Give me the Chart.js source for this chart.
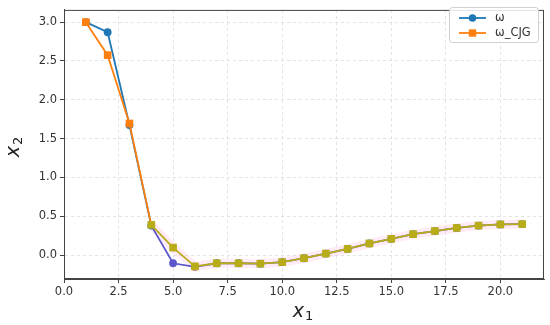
<!DOCTYPE html>
<html><head><meta charset="utf-8">
<script src="https://cdn.jsdelivr.net/npm/chart.js@4/dist/chart.umd.min.js"></script>
<style>html,body{margin:0;padding:0;background:#fff}#wrap{width:550px;height:325px}</style>
</head><body><div id="wrap"><canvas id="c" width="550" height="325"></canvas></div>
<script>
const xValues = [1,2,3,4,5,6,7,8,9,10,11,12,13,14,15,16,17,18,19,20,21];
const omega = [3.0,2.87,1.675,0.38,-0.105,-0.15,-0.105,-0.105,-0.11,-0.09,-0.04,0.02,0.08,0.15,0.21,0.27,0.31,0.35,0.38,0.395,0.40];
const omegaCJG = [3.0,2.575,1.695,0.39,0.097,-0.145,-0.105,-0.105,-0.11,-0.09,-0.04,0.02,0.08,0.15,0.21,0.27,0.31,0.35,0.38,0.395,0.40];
const xTicks = [0,2.5,5,7.5,10,12.5,15,17.5,20];
const yTicks = [0,0.5,1.0,1.5,2.0,2.5,3.0];
const seriesNames = ['ω','ω_CJG'];
const axisNames = [['x','1'],['x','2']];

const BLUE='#1f77b4', ORANGE='#ff7f0e', OLIVE='#b8ad18', PURPLE='#5c58cc';
const pts = arr => xValues.map((x,i)=>({x, y:arr[i]}));

function drawSubTitle(ctx, parts, cx, cy){
  ctx.font='italic 19px "DejaVu Sans"';
  const w1=ctx.measureText(parts[0]).width;
  ctx.font='13px "DejaVu Sans"';
  const w2=ctx.measureText(parts[1]).width;
  const x0=cx-(w1+w2+1)/2;
  ctx.textAlign='left'; ctx.textBaseline='alphabetic'; ctx.fillStyle='#222';
  ctx.font='italic 19px "DejaVu Sans"';
  ctx.fillText(parts[0],x0,cy);
  ctx.font='13px "DejaVu Sans"';
  ctx.fillText(parts[1],x0+w1+1,cy+3);
}

const framePlugin = {
  id:'frame',
  afterDraw(chart){
    const {ctx, chartArea:a} = chart;
    ctx.save();
    ctx.strokeStyle='#444'; ctx.lineWidth=1;
    ctx.strokeRect(a.left+0.5,a.top+0.5,a.right-a.left-1,a.bottom-a.top-1);
    // axis titles
    drawSubTitle(ctx, axisNames[0], 303, 317);
    ctx.save(); ctx.translate(19,147); ctx.rotate(-Math.PI/2);
    drawSubTitle(ctx, axisNames[1], 0, 0);
    ctx.restore();
    // legend
    const lx=449, ly=7, lw=89, lh=35;
    ctx.fillStyle='rgba(255,255,255,0.85)';
    ctx.strokeStyle='#d0d0d0';
    ctx.beginPath();
    if (ctx.roundRect) ctx.roundRect(lx+0.5,ly+0.5,lw,lh,3); else ctx.rect(lx+0.5,ly+0.5,lw,lh);
    ctx.fill(); ctx.stroke();
    const rows=[{c:BLUE,s:'circle',t:seriesNames[0],y:18},{c:ORANGE,s:'rect',t:seriesNames[1],y:33}];
    ctx.font='11.5px "DejaVu Sans"'; ctx.textBaseline='middle'; ctx.textAlign='left';
    rows.forEach(r=>{
      ctx.strokeStyle=r.c; ctx.lineWidth=1.8;
      ctx.beginPath(); ctx.moveTo(459,r.y); ctx.lineTo(486,r.y); ctx.stroke();
      ctx.fillStyle=r.c;
      if(r.s==='circle'){ctx.beginPath();ctx.arc(472.5,r.y,3.8,0,Math.PI*2);ctx.fill();}
      else {ctx.fillRect(468.8,r.y-3.7,7.4,7.4);}
      ctx.fillStyle='#333';
      ctx.fillText(r.t,495,r.y);
    });
    ctx.restore();
  }
};

new Chart(document.getElementById('c'),{
  type:'line',
  data:{datasets:[
    {label:'glow',data:pts(omegaCJG).slice(3),borderColor:'rgba(255,170,225,0.25)',borderWidth:9,pointRadius:0,order:3,tension:0},
    {label:seriesNames[0],data:pts(omega),borderColor:BLUE,backgroundColor:BLUE,borderWidth:1.8,
     pointStyle:'circle',pointRadius:3.9,pointBorderWidth:0,
     pointBackgroundColor:xValues.map((x,i)=>i===4?PURPLE:(i===5?'#b04a78':BLUE)),
     segment:{borderColor:c=>c.p0DataIndex>=3?PURPLE:undefined},order:2,tension:0},
    {label:seriesNames[1],data:pts(omegaCJG),borderColor:ORANGE,backgroundColor:ORANGE,borderWidth:1.8,
     pointStyle:'rect',pointRadius:5.4,pointBorderWidth:0,
     pointBackgroundColor:xValues.map((x,i)=>i>=3?OLIVE:ORANGE),
     segment:{borderColor:c=>c.p0DataIndex>=3?OLIVE:undefined},order:1,tension:0}
  ]},
  options:{
    responsive:false,animation:false,
    layout:{padding:{top:5,right:6,left:0,bottom:0}},
    plugins:{legend:{display:false},tooltip:{enabled:false}},
    scales:{
      x:{type:'linear',min:0,max:22,
        afterBuildTicks:ax=>{ax.ticks=xTicks.map(v=>({value:v}));},
        afterFit:ax=>{ax.height=46;},
        ticks:{callback:v=>Number(v).toFixed(1),font:{family:'DejaVu Sans',size:11.5},color:'#333',padding:2,maxRotation:0,autoSkip:false},
        grid:{color:'#dcdcdc',lineWidth:0.8,tickColor:'#444',tickLength:4,tickWidth:1},
        border:{display:true,color:'#444',dash:[3,3]},
        title:{display:false}
      },
      y:{type:'linear',min:-0.3075,max:3.1575,
        afterBuildTicks:ax=>{ax.ticks=yTicks.map(v=>({value:v}));},
        afterFit:ax=>{ax.width=64;},
        ticks:{callback:v=>Number(v).toFixed(1),font:{family:'DejaVu Sans',size:11.5},color:'#333',padding:3,autoSkip:false},
        grid:{color:'#dcdcdc',lineWidth:0.8,tickColor:'#444',tickLength:4,tickWidth:1},
        border:{display:true,color:'#444',dash:[3,3]},
        title:{display:false}
      }
    }
  },
  plugins:[framePlugin]
});
</script></body></html>
